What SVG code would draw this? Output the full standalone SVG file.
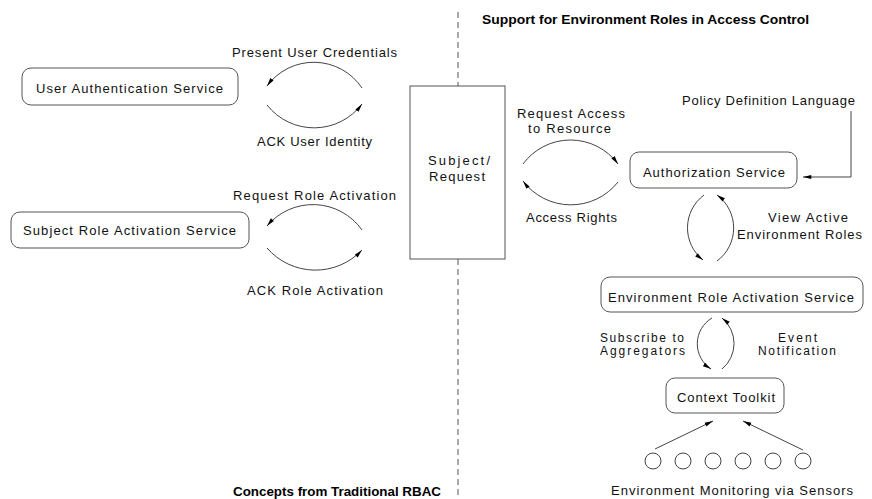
<svg xmlns="http://www.w3.org/2000/svg" width="872" height="499" viewBox="0 0 872 499">
<defs>
<marker id="ah" viewBox="0 0 10 6" refX="10" refY="3" markerWidth="9" markerHeight="5" markerUnits="userSpaceOnUse" orient="auto">
<path d="M0,0.6 L10,3 L0,5.4 Z" fill="#000"/>
</marker>
<style>
.box{fill:#fff;stroke:#555;stroke-width:1}
.t{font-family:"Liberation Sans",Arial,sans-serif;font-size:13px;fill:#111}
.sm{font-size:12px}
.h{font-family:"Liberation Sans",Arial,sans-serif;font-size:13px;font-weight:bold;fill:#000}
.c{fill:none;stroke:#444;stroke-width:1;marker-end:url(#ah)}
.s{fill:#fff;stroke:#444;stroke-width:1}
</style>
</defs>
<rect width="872" height="499" fill="#fff"/>
<g id="divider">
<line x1="458" y1="12" x2="458" y2="86" stroke="#555" stroke-dasharray="6 4"/>
<line x1="458" y1="259" x2="458" y2="499" stroke="#555" stroke-dasharray="6 4"/>
</g>
<text class="h" x="482" y="24" textLength="327" lengthAdjust="spacingAndGlyphs">Support for Environment Roles in Access Control</text>
<text class="h" x="233" y="496" textLength="208" lengthAdjust="spacingAndGlyphs">Concepts from Traditional RBAC</text>
<g id="user-auth">
<rect class="box" x="22" y="68" width="216" height="37" rx="9"/>
<text class="t" x="36" y="93" textLength="187" lengthAdjust="spacing">User Authentication Service</text>
</g>
<g id="subject-role">
<rect class="box" x="11" y="212" width="238" height="36" rx="9"/>
<text class="t" x="23" y="235" textLength="213" lengthAdjust="spacing">Subject Role Activation Service</text>
</g>
<g id="subject">
<rect class="box" x="410" y="86" width="95" height="173"/>
<text class="t" x="428" y="165" textLength="62" lengthAdjust="spacing">Subject/</text>
<text class="t" x="429" y="181" textLength="56" lengthAdjust="spacing">Request</text>
</g>
<g id="authz">
<rect class="box" x="630" y="152" width="167" height="36" rx="9"/>
<text class="t" x="643" y="177" textLength="142" lengthAdjust="spacing">Authorization Service</text>
</g>
<g id="env-role">
<rect class="box" x="601" y="277" width="262" height="35" rx="9"/>
<text class="t" x="608" y="302" textLength="246" lengthAdjust="spacing">Environment Role Activation Service</text>
</g>
<g id="context">
<rect class="box" x="666" y="378" width="118" height="35" rx="9"/>
<text class="t" x="677" y="402" textLength="98" lengthAdjust="spacing">Context Toolkit</text>
</g>
<g id="sensors">
<circle class="s" cx="653" cy="461" r="8"/>
<circle class="s" cx="683" cy="461" r="8"/>
<circle class="s" cx="713" cy="461" r="8"/>
<circle class="s" cx="743" cy="461" r="8"/>
<circle class="s" cx="773" cy="461" r="8"/>
<circle class="s" cx="803" cy="461" r="8"/>
<text class="t" x="611" y="495" textLength="242" lengthAdjust="spacing">Environment Monitoring via Sensors</text>
</g>
<g id="connectors">
<path class="c" d="M362,88 A58,58 0 0 0 267,86"/>
<path class="c" d="M267,105 A60,60 0 0 0 362,104"/>
<path class="c" d="M362,230 A60,60 0 0 0 267,226"/>
<path class="c" d="M267,248 A64,64 0 0 0 362,250"/>
<path class="c" d="M523,164 A59,59 0 0 1 618,164"/>
<path class="c" d="M618,182 A60,60 0 0 1 523,181"/>
<path class="c" d="M704,195 A41,41 0 0 0 703,260"/>
<path class="c" d="M717,261 A41,41 0 0 0 717,195"/>
<path class="c" d="M712,318 A30,30 0 0 0 711,369"/>
<path class="c" d="M722,369 A33,33 0 0 0 722,318"/>
<path class="c" d="M851,111 L851,177 L803,177"/>
<path class="c" d="M655,449 L713,421"/>
<path class="c" d="M803,450 L743,421"/>
<text class="t" x="232" y="57" textLength="165" lengthAdjust="spacing">Present User Credentials</text>
<text class="t" x="257" y="146" textLength="115" lengthAdjust="spacing">ACK User Identity</text>
<text class="t" x="233" y="200" textLength="163" lengthAdjust="spacing">Request Role Activation</text>
<text class="t" x="247" y="295" textLength="136" lengthAdjust="spacing">ACK Role Activation</text>
<text class="t" x="517" y="118" textLength="108" lengthAdjust="spacing">Request Access</text>
<text class="t" x="528" y="133" textLength="83" lengthAdjust="spacing">to Resource</text>
<text class="t" x="526" y="222" textLength="91" lengthAdjust="spacing">Access Rights</text>
<text class="t" x="682" y="105" textLength="173" lengthAdjust="spacing">Policy Definition Language</text>
<text class="t" x="768" y="222" textLength="80" lengthAdjust="spacing">View Active</text>
<text class="t" x="737" y="239" textLength="125" lengthAdjust="spacing">Environment Roles</text>
<text class="t sm" x="600" y="342" textLength="84" lengthAdjust="spacing">Subscribe to</text>
<text class="t sm" x="600" y="355" textLength="85" lengthAdjust="spacing">Aggregators</text>
<text class="t sm" x="778" y="342" textLength="39" lengthAdjust="spacing">Event</text>
<text class="t sm" x="758" y="355" textLength="78" lengthAdjust="spacing">Notification</text>
</g>
</svg>
